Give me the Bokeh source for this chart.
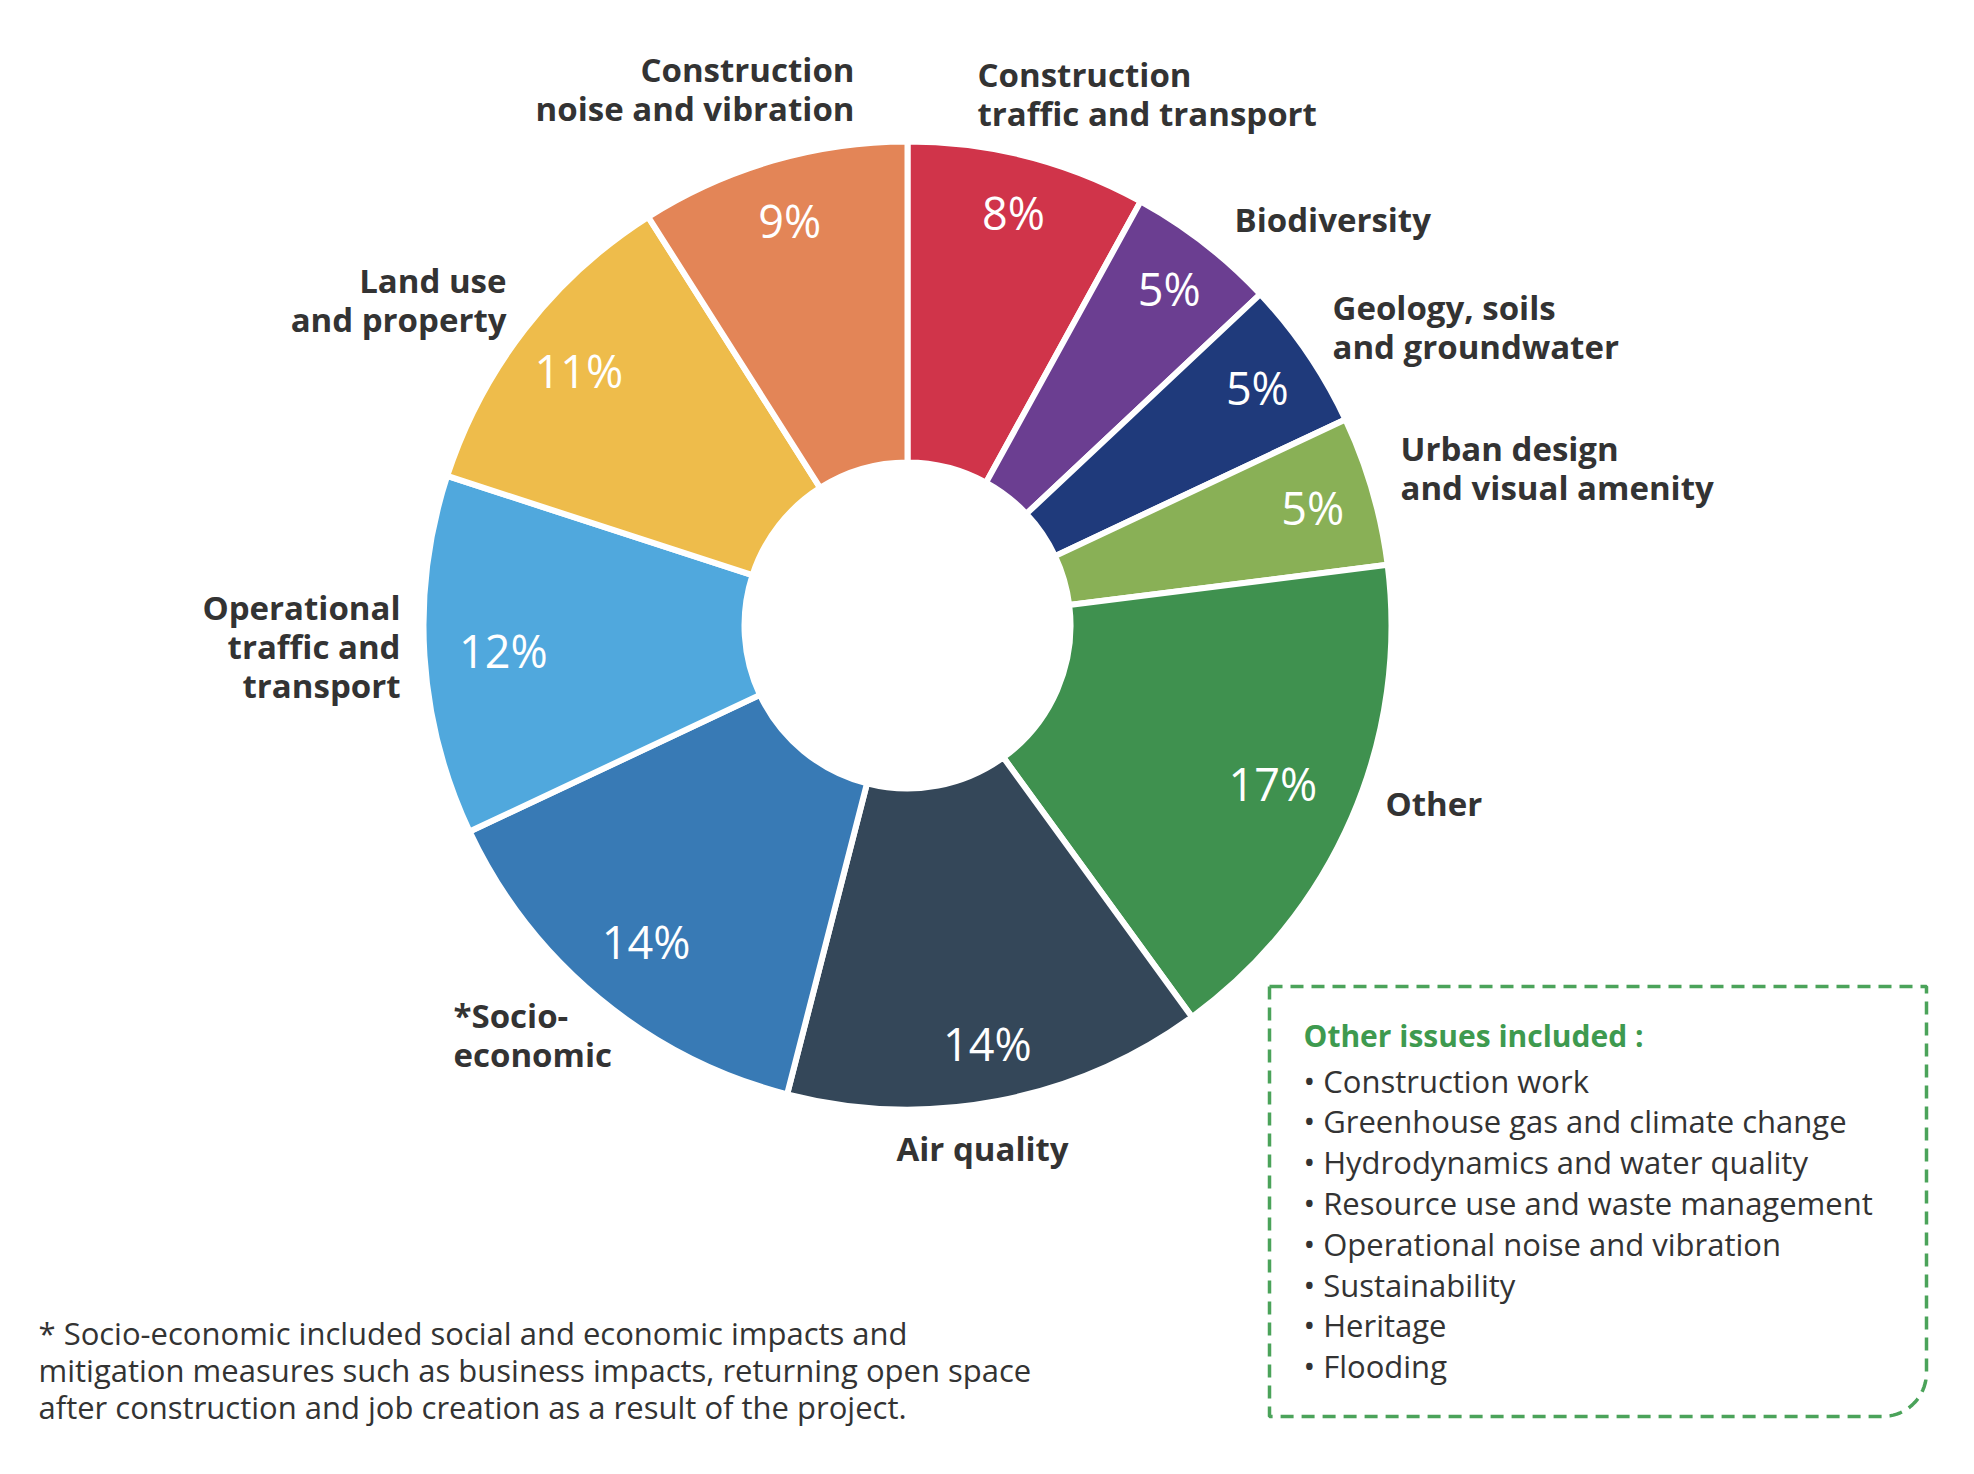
import numpy as np
from bokeh.plotting import figure
from bokeh.models import Range1d, ColumnDataSource
from bokeh.core.properties import value
from bokeh.embed import file_html
from bokeh.resources import INLINE

# ---------------- data ----------------
categories = [
    "Construction traffic and transport", "Biodiversity", "Geology, soils and groundwater",
    "Urban design and visual amenity", "Other", "Air quality", "*Socio-economic",
    "Operational traffic and transport", "Land use and property", "Construction noise and vibration",
]
shares = [8, 5, 5, 5, 17, 14, 14, 12, 11, 9]
pct_labels = [f"{s}%" for s in shares]
label_lines = [
    ["Construction", "traffic and transport"], ["Biodiversity"], ["Geology, soils", "and groundwater"],
    ["Urban design", "and visual amenity"], ["Other"], ["Air quality"], ["*Socio-", "economic"],
    ["Operational", "traffic and", "transport"], ["Land use", "and property"], ["Construction", "noise and vibration"],
]
colors = ["#D0344A", "#6B3E91", "#1F3A7B", "#89B056", "#3F914F",
          "#344759", "#387AB5", "#50A8DD", "#EEBC4B", "#E38557"]
box_title = "Other issues included :"
other_issues = [
    "Construction work", "Greenhouse gas and climate change", "Hydrodynamics and water quality",
    "Resource use and waste management", "Operational noise and vibration", "Sustainability",
    "Heritage", "Flooding",
]
footnote_lines = [
    "* Socio-economic included social and economic impacts and",
    "mitigation measures such as business impacts, returning open space",
    "after construction and job creation as a result of the project.",
]

# ---------------- layout (screen pixel coordinates) ----------------
W, H = 1958, 1458
PAGE_H = 1474
def Y(sy):
    return PAGE_H - sy

CX, CY = 907, 625
R_OUT, R_IN = 484, 163
pct_radius = [426, 427, 423, 422, 398, 426, 410, 405, 416, 422]
label_anchor = [(977, 74, "left"), (1234, 219, "left"), (1332, 307, "left"), (1400, 448, "left"),
                (1385, 803, "left"), (896, 1148, "left"), (453, 1015, "left"), (400, 607, "right"),
                (506, 280, "right"), (854, 69, "right")]
LINE_GAP = 39
TEXT_COLOR = "#333333"
FONT = value("Open Sans")

p = figure(width=W, height=H, output_backend="svg", toolbar_location=None,
           x_range=Range1d(0, W), y_range=Range1d(PAGE_H - H, PAGE_H), min_border=0)
p.axis.visible = False
p.grid.visible = False
p.outline_line_color = None
p.background_fill_color = "white"
p.border_fill_color = "white"

# wedges
total = float(sum(shares))
cum = np.concatenate([[0.0], np.cumsum(shares)]) / total
start = np.deg2rad(90.0 - cum[:-1] * 360.0)
end = np.deg2rad(90.0 - cum[1:] * 360.0)
mid = (start + end) / 2.0
src = ColumnDataSource(dict(cat=categories, share=shares, start=start, end=end, color=colors))
p.annular_wedge(x=CX, y=Y(CY), inner_radius=R_IN, outer_radius=R_OUT,
                start_angle="start", end_angle="end", direction="clock",
                fill_color="color", line_color="white", line_width=6, source=src)

# percent labels
px = [CX + r * np.cos(a) for r, a in zip(pct_radius, mid)]
py = [Y(CY) + r * np.sin(a) for r, a in zip(pct_radius, mid)]
p.text(x=px, y=py, text=pct_labels, text_color="white", text_font=FONT, text_font_size="45px",
       text_align="center", text_baseline="middle")

# category labels
for lines, (ax, ay, al) in zip(label_lines, label_anchor):
    ys = [Y(ay + i * LINE_GAP) for i in range(len(lines))]
    p.text(x=[ax] * len(lines), y=ys, text=lines, text_color=TEXT_COLOR, text_font=FONT,
           text_font_size="33px", text_font_style="bold", text_align=al, text_baseline="middle")

# dashed box with rounded bottom-right corner
BL, BR, BT, BB, RC = 1269, 1926, 986, 1416, 44
th = np.linspace(0, np.pi / 2, 20)
arc_x = list(BR - RC + RC * np.cos(th))
arc_y = list(BB - RC + RC * np.sin(th))
bx = [BL, BR, BR] + arc_x + [BL, BL]
by = [BT, BT, BB - RC] + arc_y + [BB, BT]
p.line(x=bx, y=[Y(v) for v in by], line_color="#4BA35A", line_width=3.5, line_dash="13 8")

p.text(x=[1303], y=[Y(1035)], text=[box_title], text_color="#3E9A4F", text_font=FONT,
       text_font_size="30px", text_font_style="bold", text_align="left", text_baseline="middle")
iy = [Y(1080 + i * 40.8) for i in range(len(other_issues))]
p.text(x=[1303] * len(other_issues), y=iy, text=["\u2022 " + s for s in other_issues],
       text_color=TEXT_COLOR, text_font=FONT, text_font_size="31px",
       text_align="left", text_baseline="middle")

# footnote
fy = [Y(v) for v in (1332, 1369, 1406)]
p.text(x=[38] * 3, y=fy, text=footnote_lines, text_color=TEXT_COLOR, text_font=FONT,
       text_font_size="31px", text_align="left", text_baseline="middle")

open("out.html", "w").write(file_html(p, INLINE))
